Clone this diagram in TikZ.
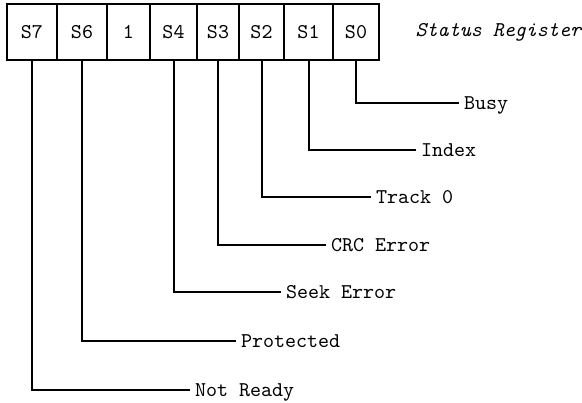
\documentclass[tikz,border=0pt]{standalone}
\usepackage{tikz}

\begin{document}
\begin{tikzpicture}[x=0.5pt, y=-0.5pt, line width=1pt,
        font=\fontsize{10.5}{12}\selectfont\ttfamily,
        bit/.style={draw, minimum height=28pt, inner sep=0pt},
        flag/.style={anchor=west, inner sep=2pt, text height=6.4pt, text depth=0pt}]
        \useasboundingbox (0, 0) rectangle (582, 402);

        \node (s7) [bit, minimum width=25pt] at (32, 32) {S7};
        \node (s6) [bit, minimum width=25pt] at (82, 32) {S6};
        \node (one) [bit, minimum width=21.5pt] at (128.5, 32) {1};
        \node (s4) [bit, minimum width=23.5pt] at (173.5, 32) {S4};
        \node (s3) [bit, minimum width=21pt] at (218, 32) {S3};
        \node (s2) [bit, minimum width=22.5pt] at (261.5, 32) {S2};
        \node (s1) [bit, minimum width=24.5pt] at (308.5, 32) {S1};
        \node (s0) [bit, minimum width=23pt] at (356, 32) {S0};
        \node (title) [anchor=west, font=\fontsize{10.5}{12}\selectfont\ttfamily\itshape] at (408, 32) {Status Register};

        \node (busy) [flag] at (459, 103) {Busy};
        \node (index) [flag] at (416, 150) {Index};
        \node (track) [flag] at (371, 197) {Track 0};
        \node (crc) [flag] at (326, 245) {CRC Error};
        \node (seek) [flag] at (281, 292) {Seek Error};
        \node (protect) [flag] at (236, 341) {Protected};
        \node (ready) [flag] at (190, 390) {Not Ready};

        \draw (s0.south) |- (busy.west);
        \draw (s1.south) |- (index.west);
        \draw (s2.south) |- (track.west);
        \draw (s3.south) |- (crc.west);
        \draw (s4.south) |- (seek.west);
        \draw (s6.south) |- (protect.west);
        \draw (s7.south) |- (ready.west);
    \end{tikzpicture}
\end{document}
